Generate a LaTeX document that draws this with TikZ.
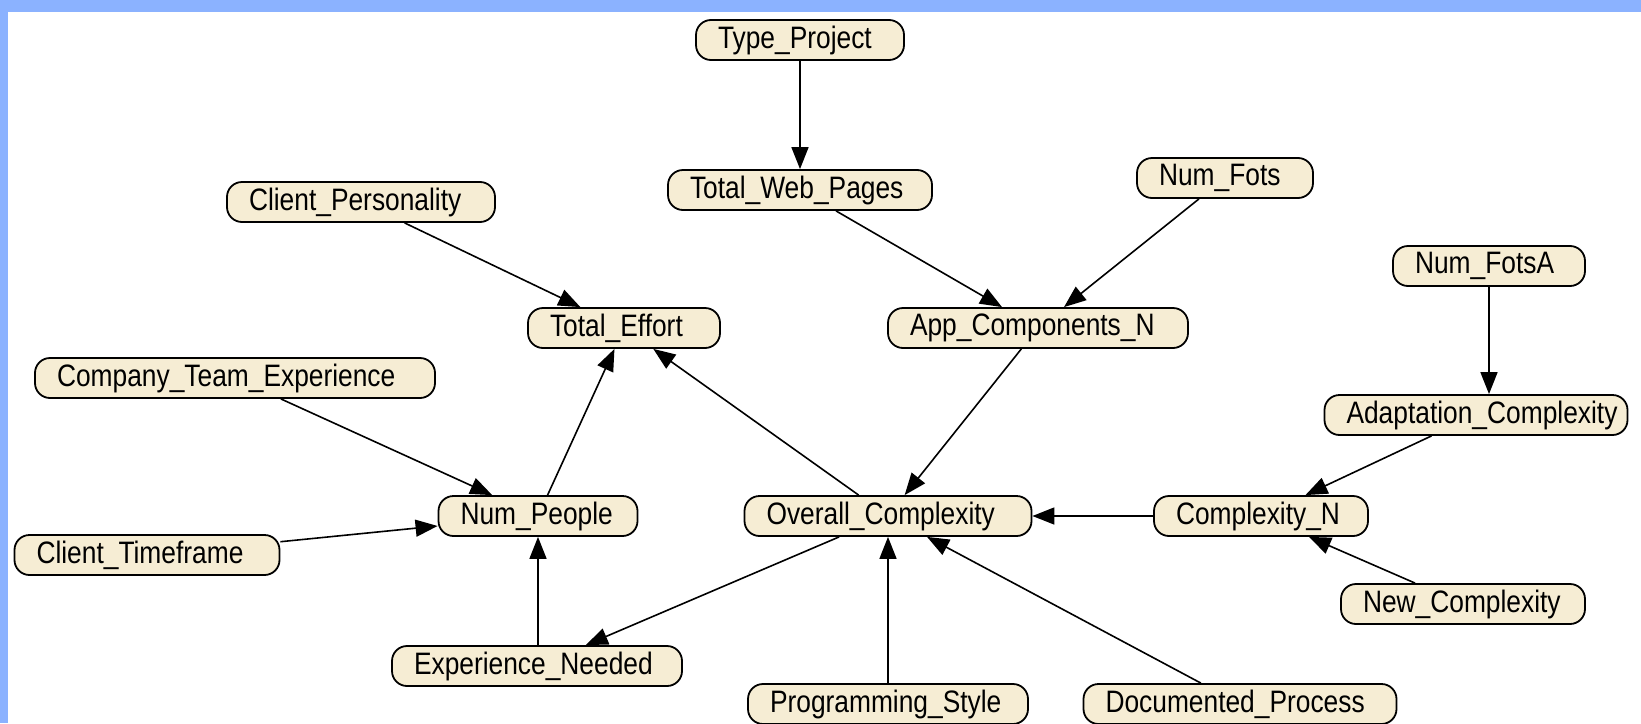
\documentclass[tikz,border=0pt]{standalone}
\usepackage{fontspec}
\setmainfont{Liberation Sans}[FakeStretch=0.85]
\usetikzlibrary{arrows.meta}
\definecolor{framebar}{RGB}{139,178,255}
\definecolor{nodefill}{RGB}{246,237,212}
\tikzset{
  bn/.style={draw=black, fill=nodefill, line width=1.8pt, rounded corners=15pt,
    minimum height=40pt, inner ysep=0pt, inner xsep=0pt,
    text width=#1pt, align=left,
    execute at begin node={\hspace*{22pt}},
    font=\fontsize{31}{31}\selectfont},
  link/.style={line width=1.6pt, draw=black,
    -{Triangle[length=22pt,width=17pt]}}
}
\begin{document}
\begin{tikzpicture}[x=1pt,y=-1pt]
  % page frame: white sheet with the blue bars on top and left
  \useasboundingbox (0,0) rectangle (1641,723);
  \fill[white] (0,0) rectangle (1641,723);
  \fill[framebar] (0,0) rectangle (1641,12);
  \fill[framebar] (0,0) rectangle (8,723);

  % network variables
  \node[bn=208] (tp)  at (800,40)   {Type\_Project};
  \node[bn=264] (twp) at (800,190)  {Total\_Web\_Pages};
  \node[bn=176] (nf)  at (1225,178) {Num\_Fots};
  \node[bn=268] (cp)  at (361,202)  {Client\_Personality};
  \node[bn=192] (te)  at (624,328)  {Total\_Effort};
  \node[bn=300] (acn) at (1038,328) {App\_Components\_N};
  \node[bn=192] (nfa) at (1489,266) {Num\_FotsA};
  \node[bn=303] (ac)  at (1476,415) {Adaptation\_Complexity};
  \node[bn=400] (cte) at (235,378)  {Company\_Team\_Experience};
  \node[bn=199] (np)  at (538,516)  {Num\_People};
  \node[bn=265] (ct)  at (147,555)  {Client\_Timeframe};
  \node[bn=287] (oc)  at (888,516)  {Overall\_Complexity};
  \node[bn=214] (cn)  at (1261,516) {Complexity\_N};
  \node[bn=244] (nc)  at (1463,604) {New\_Complexity};
  \node[bn=290] (en)  at (537,666)  {Experience\_Needed};
  \node[bn=280] (ps)  at (888,704)  {Programming\_Style};
  \node[bn=313] (dp)  at (1240,704) {Documented\_Process};

  % dependencies
  \draw[link] (tp) -- (twp);
  \draw[link] (twp) -- (acn);
  \draw[link] (nf) -- (acn);
  \draw[link] (cp) -- (te);
  \draw[link] (acn) -- (oc);
  \draw[link] (oc) -- (te);
  \draw[link] (np) -- (te);
  \draw[link] (cte) -- (np);
  \draw[link] (ct) -- (np);
  \draw[link] (en.north -| np) -- (np);
  \draw[link] (oc) -- (en);
  \draw[link] (ps) -- (oc);
  \draw[link] (dp) -- (oc);
  \draw[link] (cn) -- (oc);
  \draw[link] (nfa.south) -- (nfa.south |- ac.north);
  \draw[link] (ac) -- (cn);
  \draw[link] (nc) -- (cn);
\end{tikzpicture}
\end{document}
